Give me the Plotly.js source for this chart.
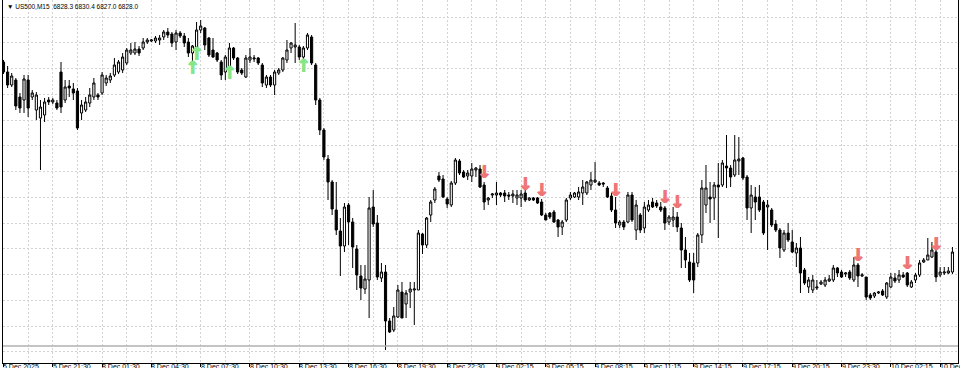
<!DOCTYPE html>
<html><head><meta charset="utf-8">
<script src="https://cdn.plot.ly/plotly-3.0.1.min.js"></script>
<style>html,body{margin:0;padding:0;background:#fff}#chart{width:960px;height:368px}</style>
</head><body><div id="chart"></div>
<script>
const open = [6866.0,6864.0,6861.4,6862.4,6859.0,6858.4,6862.4,6859.0,6856.4,6854.8,
6855.4,6858.4,6858.0,6857.8,6864.0,6858.4,6861.2,6860.6,6860.2,6855.8,
6856.4,6857.8,6859.0,6859.4,6859.8,6861.8,6862.4,6863.4,6864.0,6864.4,
6865.8,6867.8,6867.8,6868.6,6868.8,6870.0,6870.2,6870.2,6870.4,6871.0,
6872.0,6871.6,6870.0,6871.8,6871.2,6870.0,6867.8,6869.0,6872.4,6872.8,
6870.8,6868.4,6867.8,6866.0,6864.0,6865.0,6868.8,6866.8,6864.4,6863.0,
6866.4,6866.6,6866.8,6865.4,6861.4,6863.0,6861.4,6863.8,6864.4,6866.4,
6868.8,6869.0,6869.0,6867.0,6868.8,6871.0,6865.4,6858.4,6852.4,6846.6,
6842.0,6836.4,6832.2,6829.2,6837.4,6834.0,6828.6,6823.2,6820.6,6822.4,
6837.0,6833.8,6822.8,6824.0,6814.2,6812.4,6815.0,6820.0,6817.6,6820.0,
6820.4,6820.4,6831.6,6829.4,6835.4,6838.4,6843.2,6842.6,6838.6,6837.4,
6841.8,6846.2,6844.0,6843.2,6843.2,6844.4,6844.6,6841.4,6838.4,6839.4,
6839.4,6839.8,6839.8,6839.4,6839.2,6838.8,6838.8,6839.8,6838.4,6838.8,
6838.8,6838.0,6835.4,6835.8,6836.0,6834.4,6833.0,6834.4,6838.8,6839.0,
6839.0,6839.8,6839.8,6841.4,6842.0,6841.8,6841.8,6840.8,6839.2,6836.4,
6833.4,6834.0,6834.0,6839.4,6832.4,6835.4,6832.8,6836.4,6838.0,6837.8,
6837.0,6836.8,6834.0,6834.4,6835.0,6832.8,6828.4,6826.0,6825.8,6825.8,
6831.4,6837.4,6839.0,6838.8,6841.4,6841.4,6845.2,6844.8,6843.4,6846.2,
6846.8,6843.0,6836.8,6839.0,6839.0,6838.0,6837.0,6836.4,6833.6,6832.4,
6828.4,6831.8,6830.0,6827.8,6828.8,6824.4,6821.0,6820.4,6820.8,6821.6,
6821.4,6822.2,6822.4,6824.8,6824.0,6823.6,6824.0,6822.4,6825.4,6823.2,
6823.0,6819.4,6819.2,6819.8,6820.2,6819.0,6821.0,6822.8,6822.4,6823.4,
6823.8,6821.0,6822.4,6823.4,6826.0,6826.4,6827.0,6828.0,6823.4,6823.8,
6823.8,6824.0];
const high = [6866.4,6865.2,6863.8,6862.8,6859.8,6863.4,6863.4,6860.4,6860.0,6858.4,
6858.8,6859.0,6858.8,6858.4,6866.0,6862.4,6862.4,6861.8,6860.8,6858.4,
6859.0,6860.8,6862.8,6859.8,6864.0,6863.4,6863.8,6866.8,6866.4,6867.8,
6868.8,6869.8,6870.0,6869.2,6870.8,6870.8,6870.6,6871.2,6871.4,6872.4,
6872.8,6872.0,6872.4,6872.2,6871.8,6870.8,6869.4,6874.0,6874.4,6873.0,
6871.0,6870.8,6868.0,6866.4,6867.4,6869.8,6869.0,6867.0,6864.8,6867.4,
6868.8,6867.4,6867.0,6865.8,6863.4,6863.4,6864.4,6864.8,6867.0,6870.4,
6870.0,6873.8,6869.4,6869.2,6871.8,6871.4,6865.8,6858.8,6852.8,6847.4,
6842.4,6842.0,6834.8,6837.8,6837.8,6834.8,6829.4,6825.4,6825.4,6839.0,
6840.4,6835.4,6825.8,6825.4,6814.8,6817.0,6821.4,6822.0,6820.4,6822.0,
6822.0,6832.4,6831.8,6835.0,6838.4,6841.0,6844.0,6843.4,6839.0,6842.2,
6846.8,6846.6,6844.4,6844.4,6845.8,6845.0,6845.4,6842.0,6839.0,6839.8,
6842.0,6840.0,6840.4,6840.0,6840.4,6840.4,6840.4,6840.4,6839.0,6839.0,
6839.0,6838.6,6835.8,6836.0,6836.4,6834.6,6834.4,6838.8,6840.0,6840.0,
6841.0,6842.4,6842.2,6844.0,6846.0,6842.2,6842.0,6841.2,6839.8,6839.0,
6834.4,6834.4,6840.0,6840.0,6838.4,6835.8,6838.0,6838.4,6838.8,6838.4,
6838.0,6837.2,6835.4,6837.0,6836.0,6833.8,6831.0,6827.8,6827.8,6831.8,
6842.4,6845.4,6842.0,6842.0,6845.8,6846.4,6851.4,6845.4,6851.4,6851.0,
6847.0,6843.4,6841.4,6841.0,6841.4,6838.4,6838.4,6836.8,6834.4,6832.8,
6832.4,6833.8,6832.4,6829.8,6831.0,6824.8,6823.0,6823.4,6822.4,6822.4,
6823.0,6823.4,6825.4,6825.0,6824.4,6824.0,6824.4,6827.0,6825.8,6823.8,
6823.0,6819.8,6820.0,6820.2,6820.6,6822.0,6823.8,6823.8,6824.4,6824.0,
6824.0,6822.4,6823.8,6826.4,6826.8,6830.8,6830.0,6828.4,6825.0,6825.0,
6825.0,6829.0];
const low = [6863.6,6860.8,6861.0,6856.4,6855.8,6855.8,6855.0,6858.4,6854.4,6844.4,
6854.0,6857.4,6857.6,6856.4,6855.8,6857.8,6859.0,6858.4,6852.4,6854.4,
6856.0,6857.0,6858.4,6858.4,6859.4,6861.2,6861.8,6863.0,6863.6,6863.8,
6865.4,6867.4,6867.4,6867.2,6868.4,6869.6,6870.0,6869.8,6869.4,6870.4,
6870.8,6869.0,6868.4,6870.8,6869.0,6867.0,6866.0,6868.8,6871.8,6868.4,
6867.0,6866.8,6866.0,6862.4,6862.4,6864.8,6866.4,6863.6,6863.4,6862.8,
6865.8,6866.0,6865.4,6861.0,6860.8,6861.0,6859.4,6863.4,6864.0,6865.8,
6867.8,6865.8,6866.4,6866.0,6868.4,6865.4,6857.4,6851.4,6846.4,6838.4,
6835.4,6831.4,6823.2,6828.0,6829.4,6824.8,6820.4,6818.4,6819.6,6814.8,
6833.0,6822.4,6822.0,6808.4,6811.8,6812.0,6814.8,6814.8,6814.8,6816.8,
6813.4,6820.4,6827.6,6828.8,6834.0,6837.8,6842.0,6838.8,6836.8,6837.0,
6841.4,6843.4,6842.8,6842.4,6842.0,6843.0,6840.8,6836.4,6837.4,6838.8,
6837.4,6839.0,6838.0,6838.4,6837.8,6837.4,6837.0,6838.0,6838.2,6838.2,
6837.6,6835.2,6834.4,6834.6,6833.8,6831.0,6831.4,6834.0,6838.4,6838.8,
6838.4,6837.4,6839.4,6840.4,6841.8,6841.2,6841.0,6838.8,6836.0,6832.8,
6832.8,6832.4,6833.8,6834.0,6830.4,6831.8,6831.8,6836.0,6836.8,6836.8,
6836.0,6832.4,6833.4,6833.0,6832.0,6824.8,6824.8,6822.0,6819.8,6825.0,
6829.8,6835.8,6833.8,6834.4,6830.8,6841.0,6840.8,6841.0,6843.0,6843.4,
6842.4,6834.4,6831.8,6834.4,6836.0,6831.4,6828.4,6833.0,6832.0,6826.8,
6828.0,6830.0,6827.8,6825.0,6819.8,6821.4,6819.8,6819.8,6820.4,6821.4,
6821.0,6822.0,6822.0,6823.0,6822.8,6823.0,6822.4,6822.0,6821.0,6823.0,
6818.4,6818.4,6818.8,6819.6,6819.2,6818.6,6820.8,6821.8,6821.8,6822.8,
6821.0,6820.8,6821.8,6823.0,6825.8,6826.4,6826.8,6822.0,6823.0,6823.4,
6823.6,6823.6];
const close = [6864.0,6861.4,6863.2,6857.2,6856.8,6862.6,6856.8,6859.8,6859.4,6857.0,
6858.0,6858.0,6858.4,6856.8,6857.0,6861.0,6860.8,6859.8,6852.8,6857.4,
6858.0,6859.4,6861.8,6859.0,6863.4,6862.8,6863.2,6865.4,6866.0,6867.0,
6868.4,6868.4,6868.6,6867.8,6870.0,6870.4,6870.4,6870.8,6870.8,6872.0,
6871.4,6869.8,6871.8,6871.2,6869.8,6867.8,6869.2,6872.4,6873.2,6869.4,
6867.4,6867.0,6866.4,6863.4,6867.0,6868.8,6866.8,6864.0,6863.8,6866.8,
6867.0,6866.8,6865.8,6861.8,6863.0,6861.4,6864.0,6864.4,6866.8,6868.4,
6869.8,6869.4,6867.0,6868.8,6871.4,6865.8,6858.4,6852.4,6847.0,6842.0,
6836.6,6832.4,6829.2,6837.0,6834.0,6829.0,6823.4,6820.8,6822.6,6836.8,
6833.6,6823.0,6824.0,6814.2,6812.0,6815.2,6820.4,6814.8,6819.8,6820.6,
6820.6,6831.8,6829.4,6834.8,6838.0,6840.6,6842.4,6839.0,6837.6,6841.8,
6846.4,6843.8,6843.0,6843.8,6844.6,6844.8,6841.0,6838.0,6838.8,6839.6,
6839.8,6839.4,6839.2,6839.2,6839.6,6839.4,6839.6,6838.4,6838.8,6838.4,
6837.8,6835.4,6834.4,6835.0,6834.0,6833.0,6834.0,6838.4,6839.4,6839.8,
6840.0,6841.0,6842.0,6842.4,6842.4,6841.4,6841.6,6839.0,6836.4,6833.8,
6834.0,6833.0,6839.4,6834.4,6837.4,6832.4,6837.0,6837.4,6837.0,6837.2,
6836.4,6833.8,6835.0,6835.0,6833.0,6828.4,6826.4,6822.4,6822.4,6831.4,
6840.8,6840.8,6838.6,6841.4,6841.0,6845.8,6844.8,6843.0,6846.4,6846.6,
6842.8,6836.8,6839.4,6838.0,6836.4,6831.8,6837.4,6833.4,6832.4,6828.8,
6831.8,6830.4,6828.0,6828.8,6823.8,6821.8,6822.4,6822.4,6821.0,6822.0,
6822.4,6822.6,6824.8,6823.8,6823.0,6823.8,6822.8,6825.4,6823.2,6823.4,
6819.0,6818.8,6819.8,6820.0,6819.4,6821.8,6823.0,6822.2,6823.4,6823.0,
6821.4,6822.0,6823.4,6825.8,6826.4,6827.4,6828.4,6823.0,6824.0,6824.0,
6824.2,6828.0];

const tickBars = [0,12,24,36,48,60,72,84,96,108,120,132,144,156,168,180,192,204,216,228];
const tickLabels = ["5 Dec 2025","5 Dec 21:30","8 Dec 01:30","8 Dec 04:30","8 Dec 07:30","8 Dec 10:30","8 Dec 13:30","8 Dec 16:30","8 Dec 19:30","8 Dec 22:30","9 Dec 02:15","9 Dec 05:15","9 Dec 08:15","9 Dec 11:15","9 Dec 14:15","9 Dec 17:15","9 Dec 20:15","9 Dec 23:30","10 Dec 02:15","10 Dec 05:15"];
const gridBars = [6,18,30,42,54,66,78,90,102,114,126,138,150,162,174,186,198,210,222];

const upBars = [46,47,55,73];
const upPrice = [6864.6,6867.4,6863.6,6865.0];
const downBars = [117,127,131,149,161,164,208,220,227];
const downPrice = [6843.8,6841.4,6840.2,6840.2,6838.8,6837.8,6827.2,6825.6,6829.4];

const symbolText = "US500,M15";
const lastBar = ["6828.3","6830.4","6827.0","6828.0"];
const levelLine = 6809.2;

const bars = open.map((_, i) => i);
const gridColor = '#d2d2d2';
const upColor = '#86e586';
const downColor = '#ef7676';
const thick = c => `0.7px 0 0 ${c}, -0.7px 0 0 ${c}`;

const traces = [
  {type:'candlestick', x:bars, open:open, high:high, low:low, close:close,
   increasing:{line:{color:'#000',width:1}, fillcolor:'#ffffff'},
   decreasing:{line:{color:'#000',width:1}, fillcolor:'#000000'},
   whiskerwidth:0, hoverinfo:'skip', showlegend:false},
  {type:'scatter', mode:'text', x:upBars, y:upPrice, text:upBars.map(()=>'↑'),
   textposition:'middle center', textfont:{family:'DejaVu Sans', size:18, color:upColor, weight:'bold', shadow:thick(upColor)},
   hoverinfo:'skip', showlegend:false},
  {type:'scatter', mode:'text', x:downBars, y:downPrice, text:downBars.map(()=>'↓'),
   textposition:'middle center', textfont:{family:'DejaVu Sans', size:18, color:downColor, weight:'bold', shadow:thick(downColor)},
   hoverinfo:'skip', showlegend:false}
];

const annotations = tickLabels.map((t, i) => ({
  x: tickBars[i], xref:'x', y:0, yref:'paper', xanchor:'left', yanchor:'top',
  yshift:1, xshift:-1, text:t, showarrow:false, borderpad:0,
  font:{family:'Liberation Sans', size:7, color:'#000'}
}));
annotations.push({
  x:0, xref:'paper', xanchor:'left', xshift:2, y:1, yref:'paper', yanchor:'top', yshift:-1,
  text:'▼ ' + symbolText + '\u00a0\u00a0' + lastBar.join(' '), showarrow:false,
  font:{family:'Liberation Sans', size:6.5, color:'#000'}
});

const layout = {
  width:960, height:368,
  margin:{l:3, r:2, t:0, b:5},
  paper_bgcolor:'#ffffff', plot_bgcolor:'#ffffff',
  showlegend:false, boxgap:0.25,
  xaxis:{type:'linear', range:[-0.12, 232.35], tickmode:'array', tickvals:tickBars,
    showticklabels:false, ticks:'outside', ticklen:3, tickcolor:'#000', tickwidth:1,
    showgrid:true, gridcolor:gridColor, griddash:'2px,2px', gridwidth:1,
    minor:{tickmode:'array', tickvals:gridBars, showgrid:true, gridcolor:gridColor, griddash:'2px,2px', gridwidth:1, ticks:''},
    showline:true, linecolor:'#000', linewidth:1, zeroline:false,
    rangeslider:{visible:false}, fixedrange:true},
  yaxis:{range:[6805.8, 6878.4], tickmode:'linear', tick0:6875, dtick:5.15,
    showticklabels:false, ticks:'', showgrid:true, gridcolor:gridColor, griddash:'2px,2px', gridwidth:1,
    showline:true, mirror:true, linecolor:'#000', linewidth:1, zeroline:false, fixedrange:true},
  shapes:[{type:'line', xref:'paper', x0:0, x1:1, yref:'y', y0:levelLine, y1:levelLine,
    line:{color:'#b0b0b0', width:1.5}}],
  annotations:annotations
};

Plotly.newPlot('chart', traces, layout, {displayModeBar:false, staticPlot:true});
</script>
</body></html>
